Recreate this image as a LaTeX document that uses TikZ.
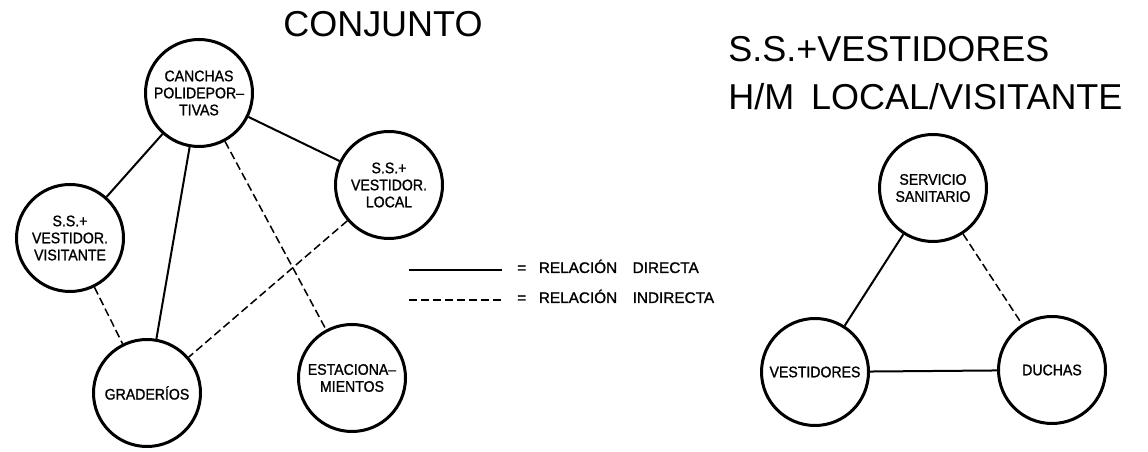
\documentclass[tikz,border=0pt]{standalone}
\usepackage{fontspec}
\setmainfont{Liberation Sans}
\newfontfamily\zonafont[FakeStretch=0.92, FakeBold=1.2]{Liberation Sans}
\newfontfamily\leyfont[FakeBold=1.2]{Liberation Sans}

\begin{document}
\begin{tikzpicture}[
		zona/.style={circle, draw, line width=0.75mm, minimum size=2.675cm, inner sep=0pt, align=center, font=\zonafont\fontsize{10.9}{12.1}\selectfont},
		titulo/.style={anchor=base west, inner sep=0pt, font=\fontsize{25.6}{30}\selectfont},
		leyenda/.style={anchor=base west, inner sep=0pt, font=\leyfont\fontsize{10.9}{13}\selectfont},
		directa/.style={line width=0.5mm},
		indirecta/.style={line width=0.38mm, dash pattern=on 5.7pt off 2.8pt},
	]
	\useasboundingbox (0, 0) rectangle (28.7, 11.3);
	
	% Titulos
	\node[titulo] (t1) at (7.075, 10.375) {CONJUNTO};
	\node[titulo] (t2) at (18.2, 9.75)    {S.S.+VESTIDORES};
	\node[titulo] (t3) at (18.2, 8.55)    {H/M\hspace{12pt}LOCAL/VISITANTE};
	
	% Conjunto
	\node[zona] (can) at (4.975, 8.975) {CANCHAS\\POLIDEPOR–\\TIVAS};
	\node[zona] (vis) at (1.75, 5.35)   {S.S.+\\VESTIDOR.\\VISITANTE};
	\node[zona] (loc) at (9.725, 6.675) {S.S.+\\VESTIDOR.\\LOCAL};
	\node[zona] (gra) at (3.675, 1.475) {GRADERÍOS};
	\node[zona] (est) at (8.8, 1.85)    {ESTACIONA–\\MIENTOS};
	
	% S.S. + vestidores
	\node[zona] (ss)  at (23.325, 6.6)  {SERVICIO\\SANITARIO};
	\node[zona] (ves) at (20.375, 2.0)  {VESTIDORES};
	\node[zona] (duc) at (26.3, 2.05)   {DUCHAS};
	
	% Connections
	\draw[directa] (can) -- (vis);
	\draw[directa] (can) -- (gra);
	\draw[directa] (can) -- (loc);
	\draw[indirecta] (can) -- (est);
	\draw[indirecta] (loc) -- (gra);
	\draw[indirecta] (vis) -- (gra);
	
	\draw[directa] (ss) -- (ves);
	\draw[indirecta] (ss) -- (duc);
	\draw[directa] (ves) -- (duc);
	
	% Leyenda
	\coordinate (d1) at (10.225, 4.55);
	\coordinate (d2) at (12.55, 4.55);
	\coordinate (i1) at (10.225, 3.8);
	\coordinate (i2) at (12.55, 3.8);
	\draw[directa] (d1) -- (d2);
	\draw[indirecta] (i1) -- (i2);
	\node[leyenda] (l1) at (12.925, 4.475) {=\hspace{9pt}RELACIÓN\hspace{11pt}DIRECTA};
	\node[leyenda] (l2) at (12.925, 3.725) {=\hspace{9pt}RELACIÓN\hspace{11pt}INDIRECTA};
\end{tikzpicture}
\end{document}
